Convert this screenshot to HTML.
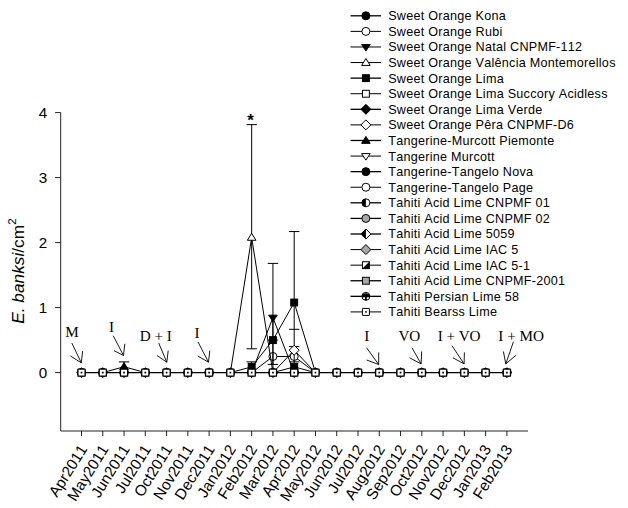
<!DOCTYPE html>
<html><head><meta charset="utf-8"><title>Chart</title>
<style>
html,body{margin:0;padding:0;background:#fff;}
body{width:628px;height:508px;position:relative;overflow:hidden;}
.s{font-family:"Liberation Sans",sans-serif;fill:#000;font-kerning:none;}
.lg{letter-spacing:0.26px;}
.t{font-family:"Liberation Serif",serif;fill:#000;}
</style></head><body>
<svg width="628" height="508" viewBox="0 0 628 508" style="position:absolute;left:0;top:0">
<rect width="628" height="508" fill="#fff"/>
<g stroke="#222" stroke-width="1" fill="none">
<path d="M60.7,112.60000000000002 L60.7,431.0 L528,431.0"/>
<path d="M55.1,372.6 L60.7,372.6"/>
<path d="M55.1,307.6 L60.7,307.6"/>
<path d="M55.1,242.60000000000002 L60.7,242.60000000000002"/>
<path d="M55.1,177.60000000000002 L60.7,177.60000000000002"/>
<path d="M55.1,112.60000000000002 L60.7,112.60000000000002"/>
<path d="M81.50,431.0 L81.50,436.0"/>
<path d="M102.77,431.0 L102.77,436.0"/>
<path d="M124.04,431.0 L124.04,436.0"/>
<path d="M145.31,431.0 L145.31,436.0"/>
<path d="M166.58,431.0 L166.58,436.0"/>
<path d="M187.85,431.0 L187.85,436.0"/>
<path d="M209.12,431.0 L209.12,436.0"/>
<path d="M230.39,431.0 L230.39,436.0"/>
<path d="M251.66,431.0 L251.66,436.0"/>
<path d="M272.93,431.0 L272.93,436.0"/>
<path d="M294.20,431.0 L294.20,436.0"/>
<path d="M315.47,431.0 L315.47,436.0"/>
<path d="M336.74,431.0 L336.74,436.0"/>
<path d="M358.01,431.0 L358.01,436.0"/>
<path d="M379.28,431.0 L379.28,436.0"/>
<path d="M400.55,431.0 L400.55,436.0"/>
<path d="M421.82,431.0 L421.82,436.0"/>
<path d="M443.09,431.0 L443.09,436.0"/>
<path d="M464.36,431.0 L464.36,436.0"/>
<path d="M485.63,431.0 L485.63,436.0"/>
<path d="M506.90,431.0 L506.90,436.0"/>
</g>
<text x="47.3" y="377.6" font-size="15.2" text-anchor="end" class="s">0</text>
<text x="47.3" y="312.6" font-size="15.2" text-anchor="end" class="s">1</text>
<text x="47.3" y="247.6" font-size="15.2" text-anchor="end" class="s">2</text>
<text x="47.3" y="182.6" font-size="15.2" text-anchor="end" class="s">3</text>
<text x="47.3" y="117.6" font-size="15.2" text-anchor="end" class="s">4</text>
<text transform="translate(87.70,449.00) rotate(-58)" font-size="15.3" text-anchor="end" class="s">Apr2011</text>
<text transform="translate(108.97,449.00) rotate(-58)" font-size="15.3" text-anchor="end" class="s">May2011</text>
<text transform="translate(130.24,449.00) rotate(-58)" font-size="15.3" text-anchor="end" class="s">Jun2011</text>
<text transform="translate(151.51,449.00) rotate(-58)" font-size="15.3" text-anchor="end" class="s">Jul2011</text>
<text transform="translate(172.78,449.00) rotate(-58)" font-size="15.3" text-anchor="end" class="s">Oct2011</text>
<text transform="translate(194.05,449.00) rotate(-58)" font-size="15.3" text-anchor="end" class="s">Nov2011</text>
<text transform="translate(215.32,449.00) rotate(-58)" font-size="15.3" text-anchor="end" class="s">Dec2011</text>
<text transform="translate(236.59,449.00) rotate(-58)" font-size="15.3" text-anchor="end" class="s">Jan2012</text>
<text transform="translate(257.86,449.00) rotate(-58)" font-size="15.3" text-anchor="end" class="s">Feb2012</text>
<text transform="translate(279.13,449.00) rotate(-58)" font-size="15.3" text-anchor="end" class="s">Mar2012</text>
<text transform="translate(300.40,449.00) rotate(-58)" font-size="15.3" text-anchor="end" class="s">Apr2012</text>
<text transform="translate(321.67,449.00) rotate(-58)" font-size="15.3" text-anchor="end" class="s">May2012</text>
<text transform="translate(342.94,449.00) rotate(-58)" font-size="15.3" text-anchor="end" class="s">Jun2012</text>
<text transform="translate(364.21,449.00) rotate(-58)" font-size="15.3" text-anchor="end" class="s">Jul2012</text>
<text transform="translate(385.48,449.00) rotate(-58)" font-size="15.3" text-anchor="end" class="s">Aug2012</text>
<text transform="translate(406.75,449.00) rotate(-58)" font-size="15.3" text-anchor="end" class="s">Sep2012</text>
<text transform="translate(428.02,449.00) rotate(-58)" font-size="15.3" text-anchor="end" class="s">Oct2012</text>
<text transform="translate(449.29,449.00) rotate(-58)" font-size="15.3" text-anchor="end" class="s">Nov2012</text>
<text transform="translate(470.56,449.00) rotate(-58)" font-size="15.3" text-anchor="end" class="s">Dec2012</text>
<text transform="translate(491.83,449.00) rotate(-58)" font-size="15.3" text-anchor="end" class="s">Jan2013</text>
<text transform="translate(513.10,449.00) rotate(-58)" font-size="15.3" text-anchor="end" class="s">Feb2013</text>
<text transform="translate(23.8,323.8) rotate(-90)" font-size="17.3" class="s"><tspan font-style="italic">E. banksi</tspan>/cm<tspan font-size="11.5" dy="-7.5">2</tspan></text>
<path d="M81.50,372.60 L506.90,372.60" stroke="#000" stroke-width="1.2" fill="none"/>
<path d="M251.66,372.60 L272.93,356.50 L294.20,356.50 L315.47,372.60" stroke="#000" stroke-width="1" fill="none"/>
<path d="M267.73,340.10 L278.13,340.10" stroke="#000" stroke-width="1" fill="none"/>
<path d="M289.00,346.60 L299.40,346.60" stroke="#000" stroke-width="1" fill="none"/>
<circle cx="272.93" cy="356.4995" r="4.0" fill="#fff" stroke="#000" stroke-width="1"/>
<circle cx="294.2" cy="356.4995" r="4.0" fill="#fff" stroke="#000" stroke-width="1"/>
<path d="M251.66,372.60 L272.93,317.61 L294.20,372.60" stroke="#000" stroke-width="1" fill="none"/>
<path d="M272.93,372.60 L272.93,263.40" stroke="#000" stroke-width="1" fill="none"/>
<path d="M267.73,263.40 L278.13,263.40" stroke="#000" stroke-width="1" fill="none"/>
<path d="M268.63,320.076 L277.23,320.076 L272.93,313.52500000000003 Z" transform="rotate(180 272.93 317.61)" fill="#000" stroke="#000" stroke-width="1"/>
<path d="M230.39,372.60 L251.66,237.40 L272.93,372.60" stroke="#000" stroke-width="1" fill="none"/>
<path d="M251.66,348.81 L251.66,124.63" stroke="#000" stroke-width="1" fill="none"/>
<path d="M246.46,124.63 L256.86,124.63" stroke="#000" stroke-width="1" fill="none"/>
<path d="M246.46,348.81 L256.86,348.81" stroke="#000" stroke-width="1" fill="none"/>
<path d="M247.35999999999999,240.266 L255.96,240.266 L251.66,233.315 Z" fill="#fff" stroke="#000" stroke-width="1"/>
<path d="M230.39,372.60 L251.66,366.88 L272.93,340.10 L294.20,302.53 L315.47,372.60" stroke="#000" stroke-width="1" fill="none"/>
<path d="M251.66,366.88 L251.66,361.88" stroke="#000" stroke-width="1" fill="none"/>
<path d="M246.46,361.88 L256.86,361.88" stroke="#000" stroke-width="1" fill="none"/>
<path d="M272.93,364.41 L272.93,317.35" stroke="#000" stroke-width="1" fill="none"/>
<path d="M267.73,364.41 L278.13,364.41" stroke="#000" stroke-width="1" fill="none"/>
<path d="M294.20,372.60 L294.20,231.55" stroke="#000" stroke-width="1" fill="none"/>
<path d="M289.00,231.55 L299.40,231.55" stroke="#000" stroke-width="1" fill="none"/>
<rect x="248.21" y="363.43" width="6.9" height="6.9" fill="#000" stroke="#000" stroke-width="1"/>
<rect x="269.48" y="336.65000000000003" width="6.9" height="6.9" fill="#000" stroke="#000" stroke-width="1"/>
<rect x="290.75" y="299.08000000000004" width="6.9" height="6.9" fill="#000" stroke="#000" stroke-width="1"/>
<path d="M272.93,372.60 L294.20,366.88 L315.47,372.60" stroke="#000" stroke-width="1" fill="none"/>
<path d="M289.00,361.88 L299.40,361.88" stroke="#000" stroke-width="1" fill="none"/>
<rect x="290.75" y="363.43" width="6.9" height="6.9" fill="#000" stroke="#000" stroke-width="1"/>
<path d="M272.93,372.60 L294.20,350.18 L315.47,372.60" stroke="#000" stroke-width="1" fill="none"/>
<path d="M289.00,329.31 L299.40,329.31" stroke="#000" stroke-width="1" fill="none"/>
<path d="M289.2,350.175 L294.2,345.175 L299.2,350.175 L294.2,355.175 Z" fill="#fff" stroke="#000" stroke-width="1"/>
<path d="M102.77,372.60 L124.04,366.75 L145.31,372.60" stroke="#000" stroke-width="1" fill="none"/>
<path d="M124.04,366.75 L124.04,361.88" stroke="#000" stroke-width="1" fill="none"/>
<path d="M118.84,361.88 L129.24,361.88" stroke="#000" stroke-width="1" fill="none"/>
<path d="M119.74,369.616 L128.34,369.616 L124.03999999999999,362.665 Z" fill="#000" stroke="#000" stroke-width="1"/>
<path d="M76.2,372.6 L81.5,367.3 L86.8,372.6 L81.5,377.90000000000003 Z" fill="#000"/><circle cx="81.5" cy="372.6" r="4.6" fill="#000"/><rect x="77.9" y="369.0" width="7.2" height="7.2" rx="0.3" fill="#fff" stroke="#000" stroke-width="1.25"/><rect x="80.65" y="371.75" width="1.7" height="1.7" fill="#000"/>
<path d="M97.47,372.6 L102.77,367.3 L108.07,372.6 L102.77,377.90000000000003 Z" fill="#000"/><circle cx="102.77" cy="372.6" r="4.6" fill="#000"/><rect x="99.17" y="369.0" width="7.2" height="7.2" rx="0.3" fill="#fff" stroke="#000" stroke-width="1.25"/><rect x="101.92" y="371.75" width="1.7" height="1.7" fill="#000"/>
<path d="M118.74000000000001,372.6 L124.04,367.3 L129.34,372.6 L124.04,377.90000000000003 Z" fill="#000"/><circle cx="124.04" cy="372.6" r="4.6" fill="#000"/><rect x="120.44000000000001" y="369.0" width="7.2" height="7.2" rx="0.3" fill="#fff" stroke="#000" stroke-width="1.25"/><rect x="123.19000000000001" y="371.75" width="1.7" height="1.7" fill="#000"/>
<path d="M140.01,372.6 L145.31,367.3 L150.61,372.6 L145.31,377.90000000000003 Z" fill="#000"/><circle cx="145.31" cy="372.6" r="4.6" fill="#000"/><rect x="141.71" y="369.0" width="7.2" height="7.2" rx="0.3" fill="#fff" stroke="#000" stroke-width="1.25"/><rect x="144.46" y="371.75" width="1.7" height="1.7" fill="#000"/>
<path d="M161.28,372.6 L166.58,367.3 L171.88000000000002,372.6 L166.58,377.90000000000003 Z" fill="#000"/><circle cx="166.58" cy="372.6" r="4.6" fill="#000"/><rect x="162.98000000000002" y="369.0" width="7.2" height="7.2" rx="0.3" fill="#fff" stroke="#000" stroke-width="1.25"/><rect x="165.73000000000002" y="371.75" width="1.7" height="1.7" fill="#000"/>
<path d="M182.54999999999998,372.6 L187.85,367.3 L193.15,372.6 L187.85,377.90000000000003 Z" fill="#000"/><circle cx="187.85" cy="372.6" r="4.6" fill="#000"/><rect x="184.25" y="369.0" width="7.2" height="7.2" rx="0.3" fill="#fff" stroke="#000" stroke-width="1.25"/><rect x="187.0" y="371.75" width="1.7" height="1.7" fill="#000"/>
<path d="M203.82,372.6 L209.12,367.3 L214.42000000000002,372.6 L209.12,377.90000000000003 Z" fill="#000"/><circle cx="209.12" cy="372.6" r="4.6" fill="#000"/><rect x="205.52" y="369.0" width="7.2" height="7.2" rx="0.3" fill="#fff" stroke="#000" stroke-width="1.25"/><rect x="208.27" y="371.75" width="1.7" height="1.7" fill="#000"/>
<path d="M225.08999999999997,372.6 L230.39,367.3 L235.69,372.6 L230.39,377.90000000000003 Z" fill="#000"/><circle cx="230.39" cy="372.6" r="4.6" fill="#000"/><rect x="226.79" y="369.0" width="7.2" height="7.2" rx="0.3" fill="#fff" stroke="#000" stroke-width="1.25"/><rect x="229.54" y="371.75" width="1.7" height="1.7" fill="#000"/>
<path d="M246.35999999999999,372.6 L251.66,367.3 L256.96,372.6 L251.66,377.90000000000003 Z" fill="#000"/><circle cx="251.66" cy="372.6" r="4.6" fill="#000"/><rect x="248.06" y="369.0" width="7.2" height="7.2" rx="0.3" fill="#fff" stroke="#000" stroke-width="1.25"/><rect x="250.81" y="371.75" width="1.7" height="1.7" fill="#000"/>
<path d="M267.63,372.6 L272.93,367.3 L278.23,372.6 L272.93,377.90000000000003 Z" fill="#000"/><circle cx="272.93" cy="372.6" r="4.6" fill="#000"/><rect x="269.33" y="369.0" width="7.2" height="7.2" rx="0.3" fill="#fff" stroke="#000" stroke-width="1.25"/><rect x="272.08" y="371.75" width="1.7" height="1.7" fill="#000"/>
<path d="M288.9,372.6 L294.2,367.3 L299.5,372.6 L294.2,377.90000000000003 Z" fill="#000"/><circle cx="294.2" cy="372.6" r="4.6" fill="#000"/><rect x="290.59999999999997" y="369.0" width="7.2" height="7.2" rx="0.3" fill="#fff" stroke="#000" stroke-width="1.25"/><rect x="293.34999999999997" y="371.75" width="1.7" height="1.7" fill="#000"/>
<path d="M310.17,372.6 L315.47,367.3 L320.77000000000004,372.6 L315.47,377.90000000000003 Z" fill="#000"/><circle cx="315.47" cy="372.6" r="4.6" fill="#000"/><rect x="311.87" y="369.0" width="7.2" height="7.2" rx="0.3" fill="#fff" stroke="#000" stroke-width="1.25"/><rect x="314.62" y="371.75" width="1.7" height="1.7" fill="#000"/>
<path d="M331.44,372.6 L336.74,367.3 L342.04,372.6 L336.74,377.90000000000003 Z" fill="#000"/><circle cx="336.74" cy="372.6" r="4.6" fill="#000"/><rect x="333.14" y="369.0" width="7.2" height="7.2" rx="0.3" fill="#fff" stroke="#000" stroke-width="1.25"/><rect x="335.89" y="371.75" width="1.7" height="1.7" fill="#000"/>
<path d="M352.71,372.6 L358.01,367.3 L363.31,372.6 L358.01,377.90000000000003 Z" fill="#000"/><circle cx="358.01" cy="372.6" r="4.6" fill="#000"/><rect x="354.40999999999997" y="369.0" width="7.2" height="7.2" rx="0.3" fill="#fff" stroke="#000" stroke-width="1.25"/><rect x="357.15999999999997" y="371.75" width="1.7" height="1.7" fill="#000"/>
<path d="M373.97999999999996,372.6 L379.28,367.3 L384.58,372.6 L379.28,377.90000000000003 Z" fill="#000"/><circle cx="379.28" cy="372.6" r="4.6" fill="#000"/><rect x="375.67999999999995" y="369.0" width="7.2" height="7.2" rx="0.3" fill="#fff" stroke="#000" stroke-width="1.25"/><rect x="378.42999999999995" y="371.75" width="1.7" height="1.7" fill="#000"/>
<path d="M395.25,372.6 L400.55,367.3 L405.85,372.6 L400.55,377.90000000000003 Z" fill="#000"/><circle cx="400.55" cy="372.6" r="4.6" fill="#000"/><rect x="396.95" y="369.0" width="7.2" height="7.2" rx="0.3" fill="#fff" stroke="#000" stroke-width="1.25"/><rect x="399.7" y="371.75" width="1.7" height="1.7" fill="#000"/>
<path d="M416.52,372.6 L421.82,367.3 L427.12,372.6 L421.82,377.90000000000003 Z" fill="#000"/><circle cx="421.82" cy="372.6" r="4.6" fill="#000"/><rect x="418.21999999999997" y="369.0" width="7.2" height="7.2" rx="0.3" fill="#fff" stroke="#000" stroke-width="1.25"/><rect x="420.96999999999997" y="371.75" width="1.7" height="1.7" fill="#000"/>
<path d="M437.78999999999996,372.6 L443.09,367.3 L448.39,372.6 L443.09,377.90000000000003 Z" fill="#000"/><circle cx="443.09" cy="372.6" r="4.6" fill="#000"/><rect x="439.48999999999995" y="369.0" width="7.2" height="7.2" rx="0.3" fill="#fff" stroke="#000" stroke-width="1.25"/><rect x="442.23999999999995" y="371.75" width="1.7" height="1.7" fill="#000"/>
<path d="M459.06,372.6 L464.36,367.3 L469.66,372.6 L464.36,377.90000000000003 Z" fill="#000"/><circle cx="464.36" cy="372.6" r="4.6" fill="#000"/><rect x="460.76" y="369.0" width="7.2" height="7.2" rx="0.3" fill="#fff" stroke="#000" stroke-width="1.25"/><rect x="463.51" y="371.75" width="1.7" height="1.7" fill="#000"/>
<path d="M480.33,372.6 L485.63,367.3 L490.93,372.6 L485.63,377.90000000000003 Z" fill="#000"/><circle cx="485.63" cy="372.6" r="4.6" fill="#000"/><rect x="482.03" y="369.0" width="7.2" height="7.2" rx="0.3" fill="#fff" stroke="#000" stroke-width="1.25"/><rect x="484.78" y="371.75" width="1.7" height="1.7" fill="#000"/>
<path d="M501.59999999999997,372.6 L506.9,367.3 L512.1999999999999,372.6 L506.9,377.90000000000003 Z" fill="#000"/><circle cx="506.9" cy="372.6" r="4.6" fill="#000"/><rect x="503.29999999999995" y="369.0" width="7.2" height="7.2" rx="0.3" fill="#fff" stroke="#000" stroke-width="1.25"/><rect x="506.04999999999995" y="371.75" width="1.7" height="1.7" fill="#000"/>
<text x="250.46" y="126" font-size="17" font-weight="bold" text-anchor="middle" class="s">*</text>
<text x="65.3" y="337" font-size="15.2" class="t">M</text>
<path d="M71.8,343 L81.3,362.8 M70.4,356 L81.3,362.8 L82.6,351.1" stroke="#000" stroke-width="0.9" fill="none"/>
<text x="109.1" y="331.7" font-size="15.2" class="t">I</text>
<path d="M113.2,335.7 L123.5,355.5 M114,350.6 L123.5,355.5 L124.8,343.8" stroke="#000" stroke-width="0.9" fill="none"/>
<text x="139.7" y="340.6" font-size="15.2" class="t">D + I</text>
<path d="M158.7,343 L166.8,362.2 M157,355.5 L166.8,362.2 L168.2,350.6" stroke="#000" stroke-width="0.9" fill="none"/>
<text x="194.5" y="338.4" font-size="15.2" class="t">I</text>
<path d="M198,342 L208.5,362.2 M197.7,356 L208.5,362.2 L209.8,350.6" stroke="#000" stroke-width="0.9" fill="none"/>
<text x="364.2" y="340.9" font-size="15.2" class="t">I</text>
<path d="M366.6,347.8 L378.7,364.5 M366.6,360 L378.7,364.5 L378.7,352.4" stroke="#000" stroke-width="0.9" fill="none"/>
<text x="398.4" y="340.9" font-size="15.2" class="t">VO</text>
<path d="M412,347.8 L421.1,363.9 M409.6,357.8 L421.1,363.9 L421.7,351.5" stroke="#000" stroke-width="0.9" fill="none"/>
<text x="437.7" y="340.9" font-size="15.2" class="t">I + VO</text>
<path d="M452,345.7 L464.1,363.9 M452.9,357.8 L464.1,363.9 L464.4,352.4" stroke="#000" stroke-width="0.9" fill="none"/>
<text x="498.3" y="340.9" font-size="15.2" class="t">I + MO</text>
<path d="M513.4,341.8 L505.8,363.9 M503.4,351.5 L505.8,363.9 L515.8,355.4" stroke="#000" stroke-width="0.9" fill="none"/>
<path d="M350.5,15.80 L381,15.80" stroke="#000" stroke-width="1.3"/>
<circle cx="365.9" cy="15.8" r="4.0" fill="#000" stroke="#000" stroke-width="1"/>
<text x="388.2" y="20.30" font-size="12.6" class="s lg">Sweet Orange Kona</text>
<path d="M350.5,31.39 L381,31.39" stroke="#000" stroke-width="1"/>
<circle cx="365.9" cy="31.39" r="4.0" fill="#fff" stroke="#000" stroke-width="1"/>
<text x="388.2" y="35.89" font-size="12.6" class="s lg">Sweet Orange Rubi</text>
<path d="M350.5,46.97 L381,46.97" stroke="#000" stroke-width="1"/>
<path d="M361.59999999999997,49.43599999999999 L370.2,49.43599999999999 L365.9,42.885 Z" transform="rotate(180 365.9 46.97)" fill="#000" stroke="#000" stroke-width="1"/>
<text x="388.2" y="51.47" font-size="12.6" class="s lg">Sweet Orange Natal CNPMF-112</text>
<path d="M350.5,62.56 L381,62.56" stroke="#000" stroke-width="1"/>
<path d="M361.59999999999997,65.426 L370.2,65.426 L365.9,58.475 Z" fill="#fff" stroke="#000" stroke-width="1"/>
<text x="388.2" y="67.06" font-size="12.6" class="s lg">Sweet Orange Valência Montemorellos</text>
<path d="M350.5,78.14 L381,78.14" stroke="#000" stroke-width="1.3"/>
<rect x="362.45" y="74.69" width="6.9" height="6.9" fill="#000" stroke="#000" stroke-width="1"/>
<text x="388.2" y="82.64" font-size="12.6" class="s lg">Sweet Orange Lima</text>
<path d="M350.5,93.73 L381,93.73" stroke="#000" stroke-width="1"/>
<rect x="362.45" y="90.28" width="6.9" height="6.9" fill="#fff" stroke="#000" stroke-width="1"/>
<text x="388.2" y="98.23" font-size="12.6" class="s lg">Sweet Orange Lima Succory Acidless</text>
<path d="M350.5,109.31 L381,109.31" stroke="#000" stroke-width="1.3"/>
<path d="M360.9,109.31 L365.9,104.31 L370.9,109.31 L365.9,114.31 Z" fill="#000" stroke="#000" stroke-width="1"/>
<text x="388.2" y="113.81" font-size="12.6" class="s lg">Sweet Orange Lima Verde</text>
<path d="M350.5,124.89 L381,124.89" stroke="#000" stroke-width="1"/>
<path d="M360.9,124.89 L365.9,119.89 L370.9,124.89 L365.9,129.89 Z" fill="#fff" stroke="#000" stroke-width="1"/>
<text x="388.2" y="129.39" font-size="12.6" class="s lg">Sweet Orange Pêra CNPMF-D6</text>
<path d="M350.5,140.48 L381,140.48" stroke="#000" stroke-width="1.3"/>
<path d="M361.59999999999997,143.34599999999998 L370.2,143.34599999999998 L365.9,136.39499999999998 Z" fill="#000" stroke="#000" stroke-width="1"/>
<text x="388.2" y="144.98" font-size="12.6" class="s lg">Tangerine-Murcott Piemonte</text>
<path d="M350.5,156.07 L381,156.07" stroke="#000" stroke-width="1"/>
<path d="M361.59999999999997,158.536 L370.2,158.536 L365.9,151.98499999999999 Z" transform="rotate(180 365.9 156.07)" fill="#fff" stroke="#000" stroke-width="1"/>
<text x="388.2" y="160.57" font-size="12.6" class="s lg">Tangerine Murcott</text>
<path d="M350.5,171.65 L381,171.65" stroke="#000" stroke-width="1.3"/>
<circle cx="365.9" cy="171.65" r="4.0" fill="#000" stroke="#000" stroke-width="1"/>
<text x="388.2" y="176.15" font-size="12.6" class="s lg">Tangerine-Tangelo Nova</text>
<path d="M350.5,187.24 L381,187.24" stroke="#000" stroke-width="1"/>
<circle cx="365.9" cy="187.24" r="4.0" fill="#fff" stroke="#000" stroke-width="1"/>
<text x="388.2" y="191.74" font-size="12.6" class="s lg">Tangerine-Tangelo Page</text>
<path d="M350.5,202.82 L381,202.82" stroke="#000" stroke-width="1.3"/>
<circle cx="365.9" cy="202.82" r="4.0" fill="#fff" stroke="#000" stroke-width="1"/><path d="M365.9,198.82 A4.0,4.0 0 0 0 365.9,206.82 Z" fill="#000"/>
<text x="388.2" y="207.32" font-size="12.6" class="s lg">Tahiti Acid Lime CNPMF 01</text>
<path d="M350.5,218.41 L381,218.41" stroke="#000" stroke-width="1.3"/>
<circle cx="365.9" cy="218.41" r="4.0" fill="#a6a6a6" stroke="#000" stroke-width="1"/>
<text x="388.2" y="222.91" font-size="12.6" class="s lg">Tahiti Acid Lime CNPMF 02</text>
<path d="M350.5,233.99 L381,233.99" stroke="#000" stroke-width="1.3"/>
<path d="M360.9,233.99 L365.9,228.99 L370.9,233.99 L365.9,238.99 Z" fill="#fff" stroke="#000" stroke-width="1"/><path d="M360.9,233.99 L365.9,228.99 L365.9,238.99 Z" fill="#000"/>
<text x="388.2" y="238.49" font-size="12.6" class="s lg">Tahiti Acid Lime 5059</text>
<path d="M350.5,249.58 L381,249.58" stroke="#000" stroke-width="1"/>
<path d="M360.9,249.58 L365.9,244.58 L370.9,249.58 L365.9,254.58 Z" fill="#a6a6a6" stroke="#000" stroke-width="1"/>
<text x="388.2" y="254.08" font-size="12.6" class="s lg">Tahiti Acid Lime IAC 5</text>
<path d="M350.5,265.16 L381,265.16" stroke="#000" stroke-width="1"/>
<rect x="362.45" y="261.71000000000004" width="6.9" height="6.9" fill="#fff" stroke="#000" stroke-width="1"/><path d="M369.34999999999997,261.71000000000004 L369.34999999999997,268.61 L362.45,268.61 Z" fill="#000"/>
<text x="388.2" y="269.66" font-size="12.6" class="s lg">Tahiti Acid Lime IAC 5-1</text>
<path d="M350.5,280.75 L381,280.75" stroke="#000" stroke-width="1.3"/>
<rect x="362.45" y="277.3" width="6.9" height="6.9" fill="#a6a6a6" stroke="#000" stroke-width="1"/>
<text x="388.2" y="285.25" font-size="12.6" class="s lg">Tahiti Acid Lime CNPMF-2001</text>
<path d="M350.5,296.33 L381,296.33" stroke="#000" stroke-width="1.3"/>
<circle cx="365.9" cy="296.33" r="4.0" fill="#fff" stroke="#000" stroke-width="1"/><path d="M361.9,297.13 A4.0,4.0 0 0 1 369.9,297.13 Z" fill="#000"/><rect x="365.0" y="296.33" width="1.8" height="4.0" fill="#000"/>
<text x="388.2" y="300.83" font-size="12.6" class="s lg">Tahiti Persian Lime 58</text>
<path d="M350.5,311.92 L381,311.92" stroke="#000" stroke-width="1"/>
<rect x="362.4" y="308.42" width="7.0" height="7.0" rx="0.3" fill="#fff" stroke="#000" stroke-width="1"/><rect x="365.09999999999997" y="311.12" width="1.6" height="1.6" fill="#000"/>
<text x="388.2" y="316.42" font-size="12.6" class="s lg">Tahiti Bearss Lime</text>
</svg>
</body></html>
